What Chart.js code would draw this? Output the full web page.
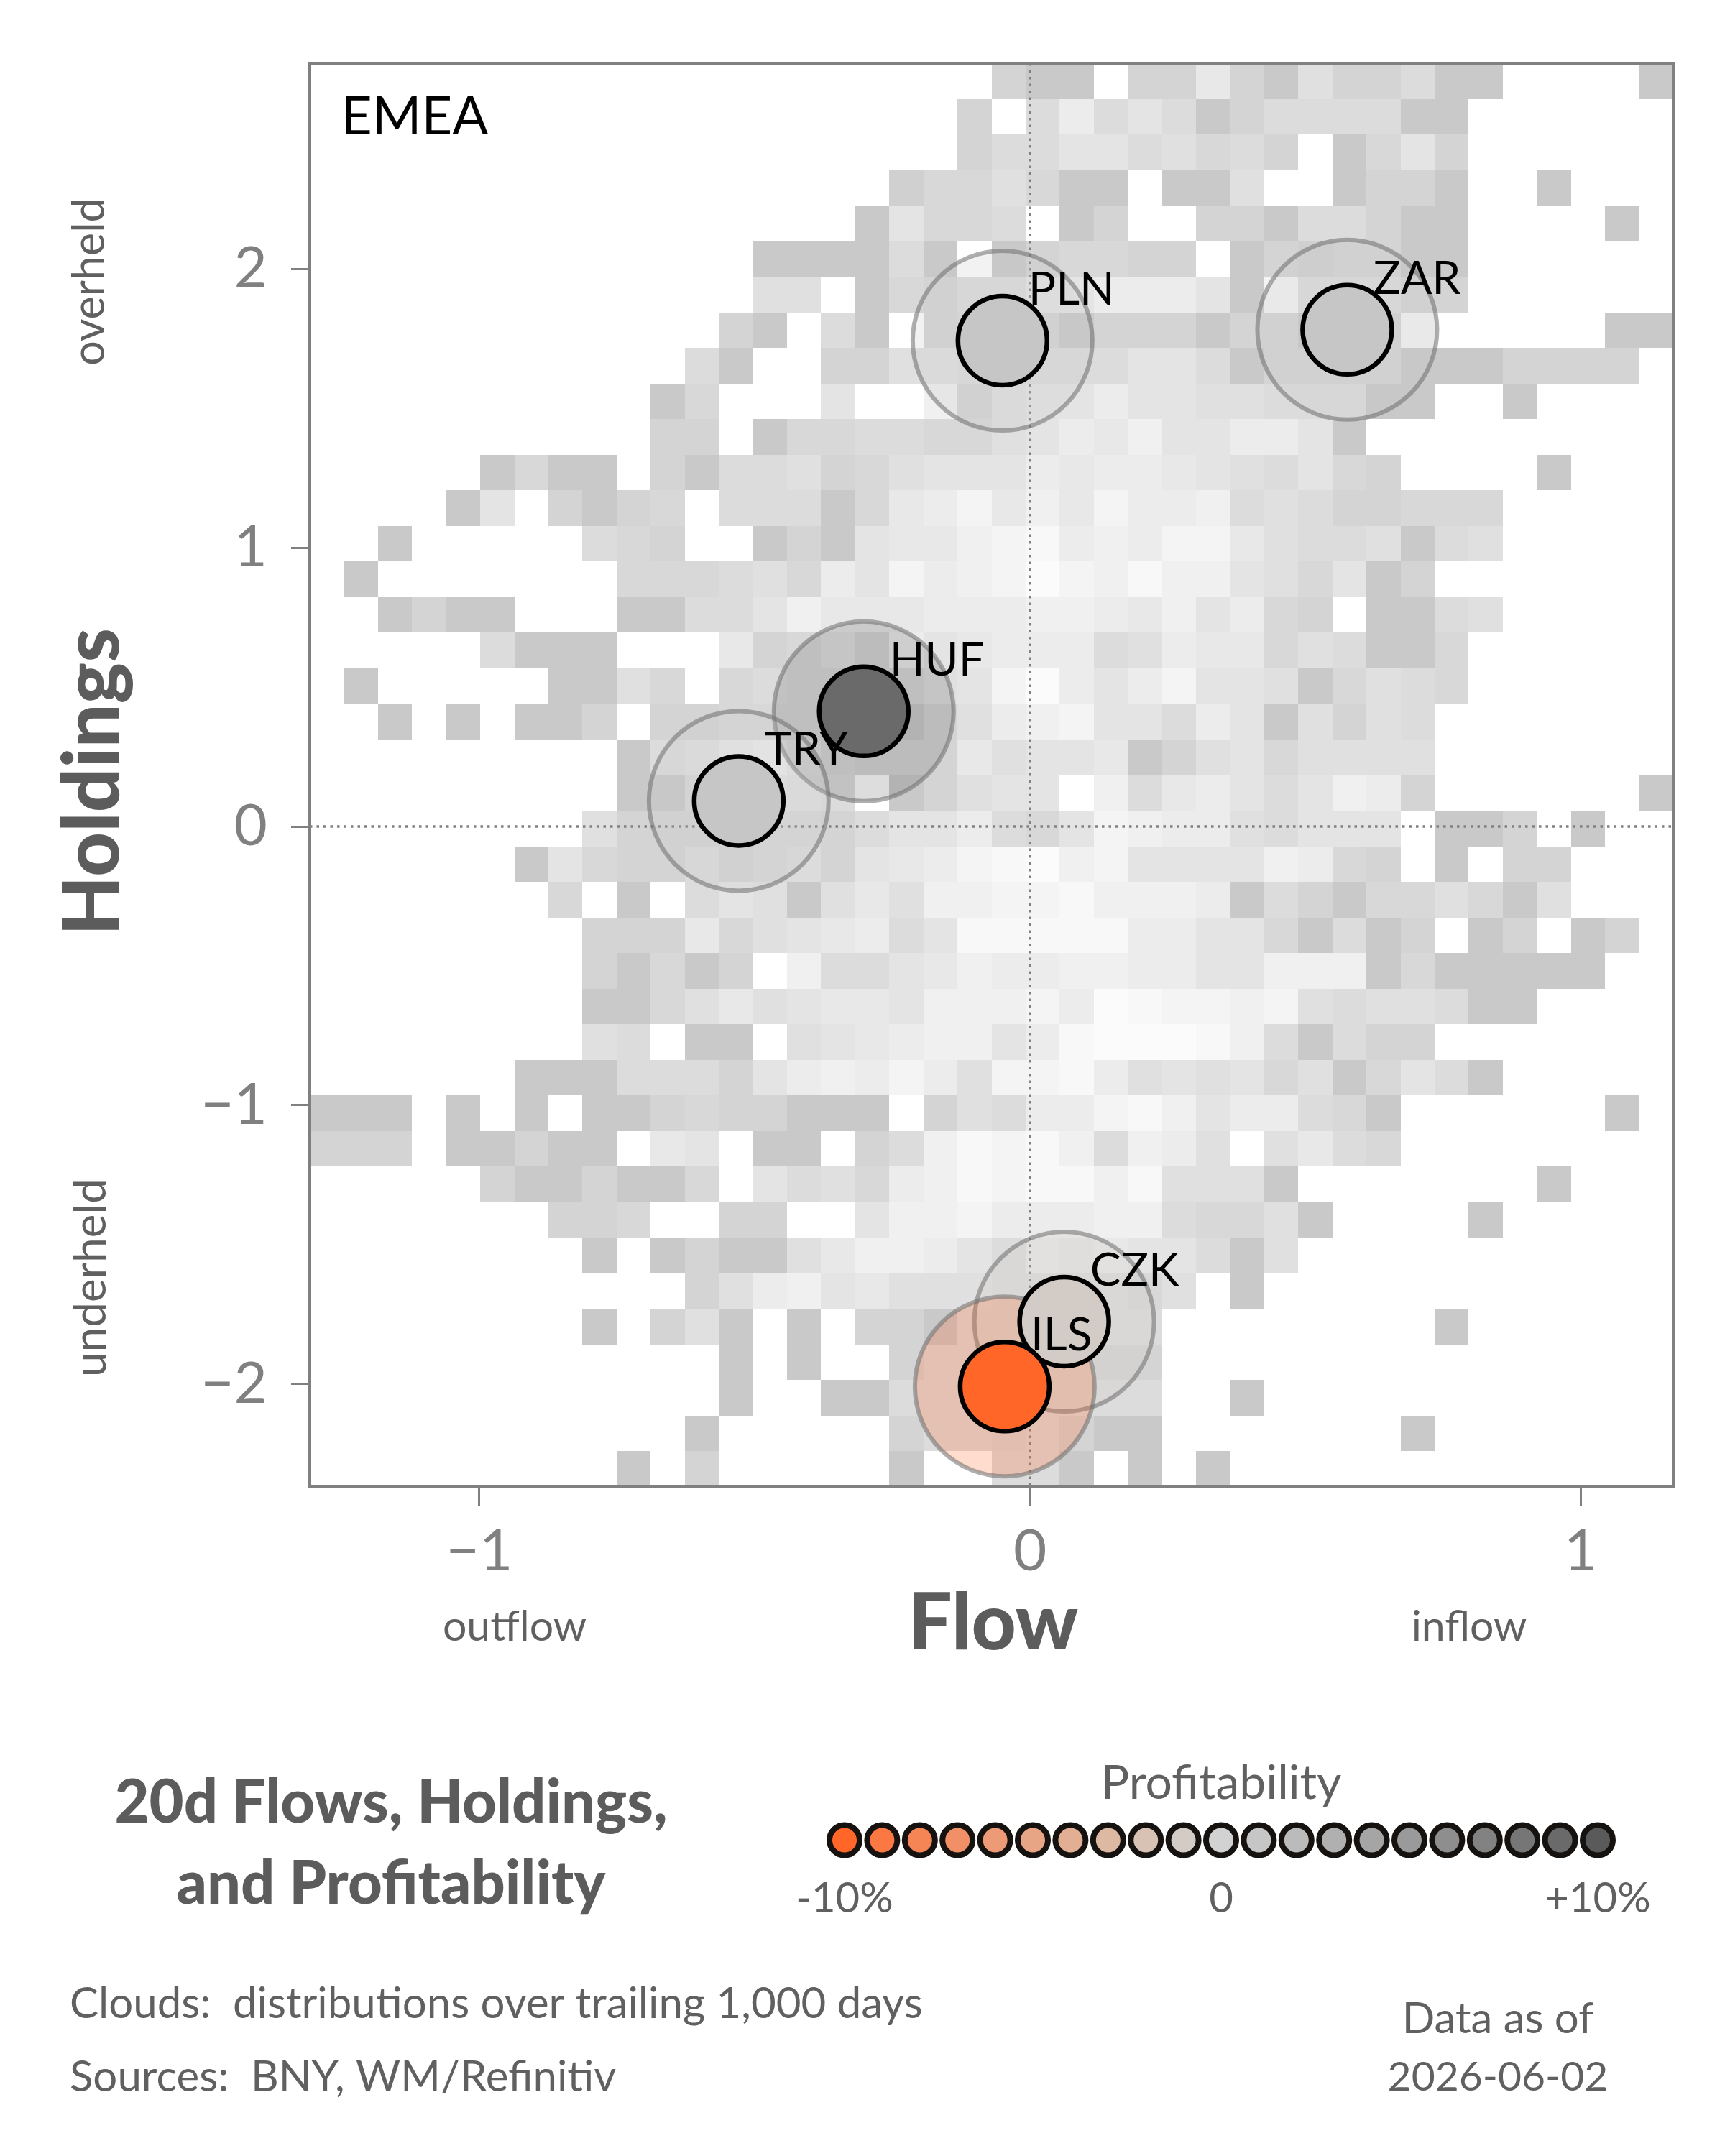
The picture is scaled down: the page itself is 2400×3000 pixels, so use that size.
<!DOCTYPE html>
<html><head><meta charset="utf-8">
<script src="https://cdn.jsdelivr.net/npm/chart.js@4.4.1/dist/chart.umd.min.js"></script>
<style>
html,body{margin:0;padding:0;background:#fff;}
#wrap{position:relative;width:2400px;height:3000px;background:#fff;}
#main{position:absolute;left:0;top:0;}
#legend{position:absolute;left:1000px;top:2420px;}
</style></head><body>
<div id="wrap">
<canvas id="main" width="2400" height="3000"></canvas>
<canvas id="legend" width="1400" height="280"></canvas>
</div>
<script>
// ---------------- data ----------------
const currencies    = ['PLN', 'ZAR', 'HUF', 'TRY', 'CZK', 'ILS'];
const flow          = [-0.050, 0.576, -0.302, -0.529, 0.062, -0.046];
const holdings      = [1.743, 1.782, 0.413, 0.092, -1.776, -2.009];
const profitability = [1.0, 1.0, 8.5, 1.0, -1.0, -10.0];   // percent

const xRange = [-1.308, 1.168];
const yRange = [-2.369, 2.738];
const xTicks = [-1, 0, 1];
const yTicks = [-2, -1, 0, 1, 2];

const legendSteps = [-10,-9,-8,-7,-6,-5,-4,-3,-2,-1,0,1,2,3,4,5,6,7,8,9,10];
const legendTicks = [-10, 0, 10];

// trailing-1,000-day distribution cloud: 40x40 bins spanning xRange x yRange,
// rows listed top (high holdings) to bottom; '.' = no observations,
// 'a'..'m' = density level 1..13 (low -> high)
const densityKey = '.abcdefghijklm';
const cloudRows = [
  "...................." + "caa.cchcafcceaa....a",
  "...................c" + ".eiegeaceeeeaa......",
  "...................c" + "eeggefdec.adgc......",
  ".................bdd" + "fdaa.aaf..acca..a...",
  "................agdd" + "e.ac..ccaeecaa....a.",
  ".............aaaaea." + "acddcc.acbccaa......",
  ".............ff.adce" + "eggiiigakeeecc......",
  "............ca.ea.cd" + "dcacccaccacck.....aa",
  "...........ea..ccffe" + "deeeggeaccccaaacccc.",
  "..........ad...g..jc" + "fggiggffeeeaa..a....",
  "..........cc.addeedd" + "fgihjggiiga.........",
  ".....adaa.caeefcdfgg" + "gihiihgfegdc....a...",
  "....ag.cacd.eeeadhik" + "hjhkiijefeccddd.....",
  "..a.....edc..acaghhj" + "klijikkhfeefaef.....",
  ".a.......dddefdigkij" + "kmkjljjgfdgac.......",
  "..acaa...aaeegjhhhii" + "ijjihjgidc.aaef.....",
  ".....eaaa...hcdfcigh" + "iiiefihhdfeaad......",
  ".a.....aafd.deddddfg" + "kmigikggfadfed......",
  "..a.a.aac.ccdddddacf" + "ijkggeigafcfe.......",
  ".........aefhigdccch" + "fgghacfgdffff.......",
  ".........aadfgfe.acf" + "gg.jehigegjic......a",
  "........fcccdddceggi" + "edgkjiifeggg.aac.a..",
  "......agdccecdecghik" + "lmjkggggjidc.a.cc...",
  ".......d.a.egfafhfjj" + "kkljjjiaecaddfdaf...",
  "........ccchdfghiegl" + "lllliiggdaeac.ac.ac.",
  "........cadac.jeeghj" + "iijjiiggjjjadaaaaa..",
  "........aadfhfghhgjj" + "jkimlkkjkfeffeaa....",
  "........fe.aa.fghijj" + "gilmmmljeaecc.......",
  "......aaaeeecgijikif" + "kklifgfgdfadgea.....",
  "aaa.a.a.aacdccaaa.cf" + "eiikljgiieda......a.",
  "ccc.aacaa.hg.aa.cejl" + "kljejif.fhed........",
  ".....caacaad.gefdijl" + "klljlfffa.......a...",
  ".......ccd..cc..gjjk" + "iiijjeddfa....a.....",
  "........a.acaafhjjig" + "ehghggeaf...........",
  "...........cfijghfff" + "eeeedf.a............",
  "........a.cfa.a.ccae" + "eeeee........a......",
  "............a.a..cee" + "eeecc...............",
  "............a..aaeee" + "eeeee..a............",
  "...........a.....cee" + "decaa.......a.......",
  ".........a.c.....a.." + "eea.a.a............."
];

// ---------------- styles ----------------
const cloudGrays = ['#c9c9c9','#d0d0d0','#d4d4d4','#d8d8d8','#dcdcdc','#e0e0e0','#e4e4e4',
                    '#e8e8e8','#ececec','#f0f0f0','#f4f4f4','#f8f8f8','#fbfbfb'];
const profitPalette = ['#ff6628','#fb7843','#f68556','#f19066','#ec9b76','#e7a585','#e2af94',
                       '#ddb9a4','#d8c2b4','#d3cbc5','#d2d2d2','#c6c6c6','#bbbbbb','#b0b0b0',
                       '#a5a5a5','#9a9a9a','#8e8e8e','#828282','#767676','#6a6a6a','#5a5a5a'];
function colorFor(p){
  const i = Math.max(0, Math.min(20, Math.round(p + 10)));
  return profitPalette[i];
}
function withAlpha(hex, a){
  const n = parseInt(hex.slice(1), 16);
  return 'rgba(' + ((n>>16)&255) + ',' + ((n>>8)&255) + ',' + (n&255) + ',' + a + ')';
}
const FONT = 'Lato, "Noto Sans", sans-serif';
const GRAY_TXT = '#606060';
const AXIS_GRAY = '#808080';
const HEAVY = '#5c5c5c';
Chart.defaults.font.family = FONT;

const fmtMinus = v => v < 0 ? '\u2212' + Math.abs(v) : String(v);

const points = currencies.map((c, i) => ({x: flow[i], y: holdings[i]}));
const bubbleColors = profitability.map(colorFor);

const cloudPlugin = {
  id: 'clouds',
  beforeDatasetsDraw(chart){
    const {ctx, chartArea: a, scales: {x, y}} = chart;
    ctx.save();
    ctx.beginPath();
    ctx.rect(a.left, a.top, a.right - a.left, a.bottom - a.top);
    ctx.clip();
    const nR = cloudRows.length, nC = cloudRows[0].length;
    const dx = (xRange[1] - xRange[0]) / nC, dy = (yRange[1] - yRange[0]) / nR;
    for (let r = 0; r < nR; r++){
      for (let c = 0; c < nC; c++){
        const lvl = densityKey.indexOf(cloudRows[r][c]);
        if (lvl < 1) continue;
        const x0 = Math.round(x.getPixelForValue(xRange[0] + c * dx));
        const x1 = Math.round(x.getPixelForValue(xRange[0] + (c + 1) * dx));
        const yt = Math.round(y.getPixelForValue(yRange[1] - r * dy));
        const yb = Math.round(y.getPixelForValue(yRange[1] - (r + 1) * dy));
        ctx.fillStyle = cloudGrays[lvl - 1];
        ctx.fillRect(x0, yt, x1 - x0, yb - yt);
      }
    }
    // dotted zero lines
    ctx.strokeStyle = AXIS_GRAY;
    ctx.lineWidth = 3.5;
    ctx.setLineDash([3.5, 6]);
    const x0p = x.getPixelForValue(0), y0p = y.getPixelForValue(0);
    ctx.beginPath();
    ctx.moveTo(x0p, a.top); ctx.lineTo(x0p, a.bottom);
    ctx.moveTo(a.left, y0p); ctx.lineTo(a.right, y0p);
    ctx.stroke();
    ctx.restore();
  },
  afterDatasetsDraw(chart){
    const {ctx, scales: {x, y}} = chart;
    ctx.save();
    ctx.fillStyle = '#000';
    ctx.font = '64px ' + FONT;
    ctx.textAlign = 'left';
    ctx.textBaseline = 'alphabetic';
    currencies.forEach((c, i) => {
      const px = x.getPixelForValue(flow[i]), py = y.getPixelForValue(holdings[i]);
      ctx.fillText(c, px + 36, py - 50);
    });
    ctx.restore();
  },
  afterDraw(chart){
    const {ctx, chartArea: a} = chart;
    ctx.save();
    // frame
    ctx.strokeStyle = AXIS_GRAY;
    ctx.lineWidth = 4;
    ctx.strokeRect(a.left, a.top, a.right - a.left, a.bottom - a.top);
    // panel label
    ctx.fillStyle = '#000';
    ctx.font = '74px ' + FONT;
    ctx.textAlign = 'left';
    ctx.textBaseline = 'alphabetic';
    ctx.fillText('EMEA', 475, 187);
    // x axis titles
    ctx.fillStyle = HEAVY;
    ctx.font = '900 108px ' + FONT;
    ctx.textAlign = 'center';
    ctx.fillText('Flow', 1382, 2295);
    ctx.fillStyle = GRAY_TXT;
    ctx.font = '59px ' + FONT;
    ctx.fillText('outflow', 716, 2283);
    ctx.fillText('inflow', 2044, 2283);
    // y axis titles (rotated)
    const rot = (txt, bx, cy, font, color) => {
      ctx.save();
      ctx.translate(bx, cy);
      ctx.rotate(-Math.PI / 2);
      ctx.font = font; ctx.fillStyle = color;
      ctx.textAlign = 'center'; ctx.textBaseline = 'alphabetic';
      ctx.fillText(txt, 0, 0);
      ctx.restore();
    };
    rot('Holdings', 165, 1088, '900 108px ' + FONT, HEAVY);
    rot('overheld', 145, 392, '61px ' + FONT, GRAY_TXT);
    rot('underheld', 147, 1778, '62px ' + FONT, GRAY_TXT);
    // title
    ctx.fillStyle = HEAVY;
    ctx.font = '900 83px ' + FONT;
    ctx.textAlign = 'center';
    ctx.fillText('20d Flows, Holdings,', 544, 2536);
    ctx.fillText('and Profitability', 544, 2649);
    // footer
    ctx.fillStyle = GRAY_TXT;
    ctx.font = '60px ' + FONT;
    ctx.textAlign = 'left';
    ctx.fillText('Clouds:  distributions over trailing 1,000 days', 97, 2808);
    ctx.fillText('Sources:  BNY, WM/Refinitiv', 97, 2910);
    ctx.textAlign = 'center';
    ctx.fillText('Data as of', 2084, 2829);
    ctx.font = '57px ' + FONT;
    ctx.fillText('2026-06-02', 2084, 2909);
    ctx.restore();
  }
};

new Chart(document.getElementById('main'), {
  type: 'scatter',
  data: {
    datasets: [
      {
        label: 'halo',
        data: points,
        order: 2,
        pointRadius: 125,
        pointHoverRadius: 125,
        backgroundColor: bubbleColors.map(c => withAlpha(c, 0.23)),
        borderColor: 'rgba(110,110,110,0.55)',
        borderWidth: 6,
        clip: false
      },
      {
        label: 'core',
        data: points,
        order: 1,
        pointRadius: 62,
        pointHoverRadius: 62,
        backgroundColor: bubbleColors,
        borderColor: '#000',
        borderWidth: 6.5,
        clip: false
      }
    ]
  },
  options: {
    responsive: false,
    devicePixelRatio: 1,
    animation: false,
    events: [],
    layout: {autoPadding: false, padding: {left: 0, right: 72, top: 88, bottom: 731}},
    plugins: {legend: {display: false}, tooltip: {enabled: false}},
    scales: {
      x: {
        type: 'linear', min: xRange[0], max: xRange[1],
        afterBuildTicks: s => { s.ticks = xTicks.map(v => ({value: v})); },
        afterFit: s => { s.height = 200; },
        grid: {drawOnChartArea: false, drawTicks: true, tickLength: 26, tickWidth: 3, tickColor: AXIS_GRAY},
        border: {display: false},
        ticks: {callback: v => fmtMinus(v), font: {size: 80}, color: AXIS_GRAY, padding: 16,
                maxRotation: 0, autoSkip: false}
      },
      y: {
        type: 'linear', min: yRange[0], max: yRange[1],
        afterBuildTicks: s => { s.ticks = yTicks.map(v => ({value: v})); },
        afterFit: s => { s.width = 431; },
        grid: {drawOnChartArea: false, drawTicks: true, tickLength: 26, tickWidth: 3, tickColor: AXIS_GRAY},
        border: {display: false},
        ticks: {callback: v => fmtMinus(v), font: {size: 80}, color: AXIS_GRAY, padding: 33,
                autoSkip: false}
      }
    }
  },
  plugins: [cloudPlugin]
});

// ---------------- profitability legend ----------------
new Chart(document.getElementById('legend'), {
  type: 'scatter',
  data: {
    datasets: [{
      data: legendSteps.map(v => ({x: v, y: 0})),
      pointRadius: 21,
      pointHoverRadius: 21,
      borderWidth: 8,
      borderColor: '#161210',
      backgroundColor: legendSteps.map(colorFor),
      clip: false
    }]
  },
  options: {
    responsive: false,
    devicePixelRatio: 1,
    animation: false,
    events: [],
    layout: {autoPadding: false, padding: {left: 175, right: 177, top: 104, bottom: 0}},
    plugins: {legend: {display: false}, tooltip: {enabled: false}},
    scales: {
      x: {
        type: 'linear', min: -10, max: 10,
        afterBuildTicks: s => { s.ticks = legendTicks.map(v => ({value: v})); },
        afterFit: s => { s.height = 103; },
        grid: {display: false, drawTicks: false},
        border: {display: false},
        ticks: {callback: v => v === 0 ? '0' : (v > 0 ? '+' + v + '%' : v + '%'),
                font: {size: 58}, color: GRAY_TXT, padding: 10, maxRotation: 0, autoSkip: false}
      },
      y: {display: false, min: -1, max: 1}
    }
  },
  plugins: [{
    id: 'legendTitle',
    afterDraw(chart){
      const {ctx, chartArea: a} = chart;
      ctx.save();
      ctx.fillStyle = GRAY_TXT;
      ctx.font = '66px ' + FONT;
      ctx.textAlign = 'center';
      ctx.textBaseline = 'alphabetic';
      ctx.fillText('Profitability', (a.left + a.right) / 2, 83);
      ctx.restore();
    }
  }]
});
</script>
</body></html>
